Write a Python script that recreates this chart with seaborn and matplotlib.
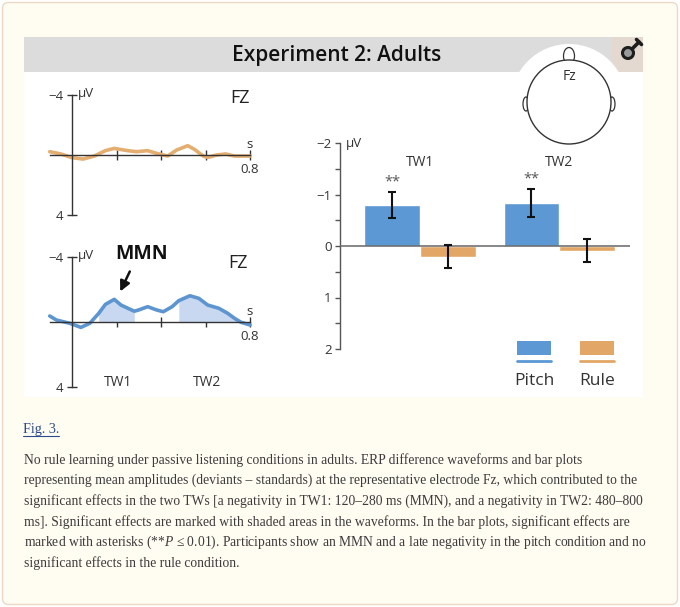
import matplotlib.pyplot as plt
import matplotlib.patches as mpatches
import numpy as np
import pandas as pd
import seaborn as sns

# Rule condition difference wave at Fz (time in s, amplitude in microvolt)
rule_t = [-0.10, -0.05, 0.0, 0.05, 0.10, 0.15, 0.19, 0.25, 0.29, 0.34, 0.38,
          0.43, 0.47, 0.52, 0.55, 0.59, 0.61, 0.65, 0.69, 0.73, 0.80]
rule_uv = [-0.22, -0.07, 0.18, 0.27, 0.07, -0.29, -0.44, -0.29, -0.22, -0.29, -0.11,
           0.07, -0.33, -0.62, -0.38, 0.07, 0.16, 0.0, -0.07, 0.07, 0.07]

# Pitch condition difference wave at Fz
pitch_t = [-0.10, -0.07, -0.01, 0.04, 0.08, 0.12, 0.15, 0.19, 0.22, 0.28, 0.30, 0.34,
           0.38, 0.41, 0.45, 0.48, 0.53, 0.57, 0.61, 0.66, 0.70, 0.73, 0.76, 0.80]
pitch_uv = [-0.37, -0.12, 0.08, 0.33, 0.08, -0.53, -1.08, -1.39, -1.04, -0.66, -0.74, -0.94,
            -0.74, -0.63, -0.94, -1.31, -1.61, -1.45, -1.04, -0.84, -0.53, -0.23, 0.02, 0.18]

# significant time windows (s)
tw1 = (0.12, 0.28)
tw2 = (0.48, 0.76)

# bar plot: mean amplitude per window
windows = ['TW1', 'TW2']
conditions = ['Pitch', 'Rule']
pitch_mean = [-0.79, -0.83]
pitch_err = [0.25, 0.27]
rule_mean = [0.21, 0.09]
rule_err = [0.22, 0.23]

colors = {'Pitch': '#5b98d4', 'Rule': '#e2a766'}
wave_blue = '#5d95d0'
wave_orange = '#e4ae70'
shade_blue = '#c8d8f0'
ink = '#333333'

W, H = 680, 607

sns.set_style('white')
plt.rcParams['font.family'] = ['Open Sans', 'DejaVu Sans']
plt.rcParams['mathtext.fontset'] = 'custom'
plt.rcParams['mathtext.it'] = 'Liberation Serif:italic'
plt.rcParams['mathtext.rm'] = 'Liberation Serif'

fig = plt.figure(figsize=(W / 100, H / 100), dpi=100, facecolor='white')

# background / page layer in pixel coordinates
bg = fig.add_axes([0, 0, 1, 1])
bg.set_xlim(0, W)
bg.set_ylim(H, 0)
bg.axis('off')

bg.add_patch(mpatches.FancyBboxPatch((2.5, 2.5), W - 5, H - 5,
                                     boxstyle='round,pad=0,rounding_size=6',
                                     facecolor='#fffcf2', edgecolor='#ecd8c4', lw=1))
bg.add_patch(mpatches.Rectangle((24, 72), 619, 325, facecolor='white', lw=0))
bg.add_patch(mpatches.Rectangle((24, 37), 619, 35, facecolor='#dcdcdc', lw=0))
bg.add_patch(mpatches.Rectangle((612, 37), 31, 35, facecolor='#e3d9d0', lw=0))
bg.text(337, 56, 'Experiment 2: Adults', ha='center', va='center',
        fontsize=15, fontweight='semibold', color='#111111')

# zoom icon
bg.add_patch(mpatches.Circle((628, 53), 5.5, facecolor='#9a9a9a', edgecolor='#1e1e1e', lw=2.2))
bg.plot([632, 639], [49, 42], color='#1e1e1e', lw=2.6, solid_capstyle='round')
bg.plot([636.5, 641.5], [39.5, 44.5], color='#1e1e1e', lw=2.6, solid_capstyle='round')

# head with Fz
hx, hy = 569, 102
bg.add_patch(mpatches.Circle((hx, hy), 58, facecolor='white', lw=0, zorder=2))
bg.add_patch(mpatches.Ellipse((hx, 56), 11, 17, facecolor='white', edgecolor=ink, lw=0.9, zorder=3))
bg.add_patch(mpatches.Ellipse((hx - 43, hy + 2), 6, 14, facecolor='white', edgecolor=ink, lw=0.9, zorder=3))
bg.add_patch(mpatches.Ellipse((hx + 43, hy + 2), 6, 14, facecolor='white', edgecolor=ink, lw=0.9, zorder=3))
bg.add_patch(mpatches.Circle((hx, hy), 42, facecolor='white', edgecolor=ink, lw=1.0, zorder=4))
bg.text(hx, 77, 'Fz', ha='center', va='center', fontsize=10, color=ink, zorder=5)

# waveform panel labels
bg.text(240, 98, 'FZ', ha='center', va='center', fontsize=13, color='#222222')
bg.text(238, 263, 'FZ', ha='center', va='center', fontsize=13, color='#222222')
bg.text(142, 254, 'MMN', ha='center', va='center', fontsize=14, fontweight='bold', color='#111111')
bg.annotate('', xy=(119, 294), xytext=(131, 269),
            arrowprops=dict(arrowstyle='-|>,head_length=0.6,head_width=0.3', color='#111111', lw=1.8))
bg.text(118, 382, 'TW1', ha='center', va='center', fontsize=10, color=ink)
bg.text(207, 382, 'TW2', ha='center', va='center', fontsize=10, color=ink)

T0_PX, PX_PER_S = 72, 222.5


def wave_axes(y_zero, px_per_uv):
    x0, x1 = 30, 270
    lim = 4.6
    y0, y1 = y_zero - lim * px_per_uv, y_zero + lim * px_per_uv
    ax = fig.add_axes([x0 / W, 1 - y1 / H, (x1 - x0) / W, (y1 - y0) / H])
    ax.patch.set_alpha(0)
    ax.set_xlim((x0 - T0_PX) / PX_PER_S, (x1 - T0_PX) / PX_PER_S)
    ax.set_ylim(lim, -lim)
    ax.spines[['top', 'right']].set_visible(False)
    for side in ['left', 'bottom']:
        ax.spines[side].set_position(('data', 0))
        ax.spines[side].set_color(ink)
        ax.spines[side].set_linewidth(1.0)
    ax.spines['left'].set_bounds(-4, 4)
    ax.spines['bottom'].set_bounds(-0.1, 0.8)
    ax.set_yticks([-4, 4], ['\u22124', '4'])
    ax.set_xticks([0.2, 0.4, 0.6, 0.8], ['', '', '', '0.8'])
    ax.tick_params(direction='inout', left=True, bottom=True, length=7, width=1, color=ink,
                   labelsize=9.5, labelcolor=ink, pad=2.5)
    ax.annotate('\u03bcV', (0, -4), xytext=(4.5, 1), textcoords='offset points',
                ha='left', va='center', fontsize=9.5, color=ink)
    ax.annotate('s', (0.8, 0), xytext=(0, 3), textcoords='offset points',
                ha='center', va='bottom', fontsize=9.5, color=ink)
    return ax


ax1 = wave_axes(155, 15.0)
sns.lineplot(x=rule_t, y=rule_uv, color=wave_orange, lw=2.6, ax=ax1, sort=False)

ax2 = wave_axes(322, 16.3)
pt = np.array(pitch_t)
pv = np.array(pitch_uv)
for lo, hi in [tw1, tw2]:
    ax2.fill_between(pt, pv, 0, where=(pt >= lo) & (pt <= hi), color=shade_blue, lw=0)
sns.lineplot(x=pitch_t, y=pitch_uv, color=wave_blue, lw=2.6, ax=ax2, sort=False)
for ax in (ax1, ax2):
    for ln in ax.lines:
        ln.set_solid_capstyle('round')
        ln.set_solid_joinstyle('round')

# bar plot
bars = pd.DataFrame({
    'window': windows * 2,
    'condition': ['Pitch'] * 2 + ['Rule'] * 2,
    'amp': pitch_mean + rule_mean,
    'err': pitch_err + rule_err,
})

BX0, BX1, BY0, BY1 = 340, 630, 135, 355
axb = fig.add_axes([BX0 / W, 1 - BY1 / H, (BX1 - BX0) / W, (BY1 - BY0) / H])
axb.patch.set_alpha(0)
sns.barplot(data=bars, x='window', y='amp', hue='condition', hue_order=conditions,
            palette=colors, width=0.8, saturation=1, errorbar=None, legend=False, ax=axb)
for cont, cond in zip(axb.containers, conditions):
    sub = bars[bars['condition'] == cond]
    xs = [p.get_x() + p.get_width() / 2 for p in cont]
    axb.errorbar(xs, sub['amp'], yerr=sub['err'], fmt='none', ecolor='#111111',
                 elinewidth=1.5, capsize=3, capthick=1.5, zorder=5)
    if cond == 'Pitch':
        for x, a, e in zip(xs, sub['amp'], sub['err']):
            axb.text(x, a - e - 0.2, '**', ha='center', va='center', fontsize=10.5, color='#555555')

axb.set_xlim((BX0 - 420) / 139.3, (BX1 - 420) / 139.3)
axb.set_ylim((BY1 - 246) / 51.5, (BY0 - 246) / 51.5)
axb.axhline(0, color='#666666', lw=1.1, zorder=4)
for i, name in enumerate(windows):
    axb.text(i, -1.62, name, ha='center', va='center', fontsize=10, color=ink)
axb.set_xlabel('')
axb.set_ylabel('')
axb.set_xticks([])
axb.spines[['top', 'right', 'bottom']].set_visible(False)
axb.spines['left'].set_bounds(-2, 2)
axb.spines['left'].set_color('#555555')
axb.spines['left'].set_linewidth(1.0)
axb.set_yticks([-2, -1, 0, 1, 2], ['\u22122', '\u22121', '0', '1', '2'])
axb.set_yticks([-1.5, -0.5, 0.5, 1.5], minor=True)
axb.tick_params(axis='y', which='both', direction='out', left=True, length=3.5, width=1,
                color='#555555', labelsize=9.5, labelcolor=ink, pad=2.5)
axb.text(axb.get_xlim()[0] + 0.04, -2, '\u03bcV', ha='left', va='center',
         fontsize=9.5, color=ink)

# legend
for cond, lx in zip(conditions, [517, 580]):
    bg.add_patch(mpatches.Rectangle((lx, 341), 34, 14, facecolor=colors[cond], lw=0))
    bg.plot([lx, lx + 34], [361, 361], color=colors[cond], lw=2)
    bg.text(lx + 17, 381, cond, ha='center', va='center', fontsize=12.5, color=ink)

# caption
serif = ['Liberation Serif', 'DejaVu Serif']
bg.text(23, 429, 'Fig. 3.', ha='left', va='center', fontsize=10.2, color='#2b4a8c', family=serif)
bg.plot([23, 59], [435.5, 435.5], color='#2b4a8c', lw=0.8)

caption = [
    'No rule learning under passive listening conditions in adults. ERP difference waveforms and bar plots',
    'representing mean amplitudes (deviants \u2013 standards) at the representative electrode Fz, which contributed to the',
    'significant effects in the two TWs [a negativity in TW1: 120\u2013280 ms (MMN), and a negativity in TW2: 480\u2013800',
    'ms]. Significant effects are marked with shaded areas in the waveforms. In the bar plots, significant effects are',
    'marked with asterisks (**$P$ \u2264 0.01). Participants show an MMN and a late negativity in the pitch condition and no',
    'significant effects in the rule condition.',
]
for k, line in enumerate(caption):
    bg.text(24, 460 + k * 20.7, line, ha='left', va='center', fontsize=9.8, color='#3c3c3c',
            family=serif)

fig.savefig('out.png', dpi=100, facecolor=fig.get_facecolor())
